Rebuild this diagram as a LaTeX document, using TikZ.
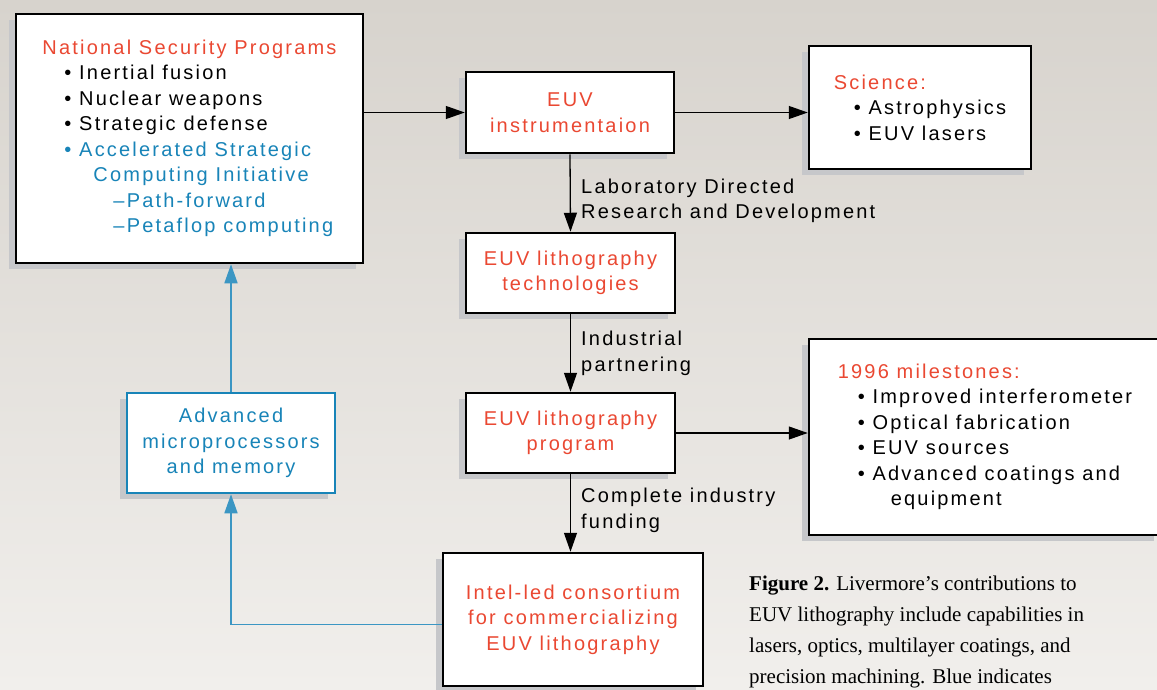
\documentclass[tikz,border=0pt]{standalone}
\usepackage{fontspec}
\setmainfont{Liberation Serif}
\newfontfamily\boxfont{Liberation Sans}[LetterSpace=11]
\usetikzlibrary{arrows.meta,positioning,shadows}

\definecolor{euvred}{RGB}{234,72,50}
\definecolor{euvblue}{RGB}{24,132,184}
\definecolor{shadowgrey}{RGB}{198,199,202}
\definecolor{bgtop}{RGB}{215,211,205}
\definecolor{bgbottom}{RGB}{241,239,236}

\tikzset{
  box/.style={draw, line width=2.5pt, fill=white, align=center, inner sep=0pt,
    font=\boxfont\fontsize{20}{25.5}\selectfont,
    drop shadow={shadow xshift=-7pt, shadow yshift=-6pt, fill=shadowgrey, opacity=1}},
  redbox/.style={box, text=euvred},
  bluebox/.style={box, draw=euvblue, text=euvblue},
  lbl/.style={anchor=west, align=left, inner sep=0pt,
    font=\boxfont\fontsize{20}{25.5}\selectfont},
  link/.style={line width=1.3pt, -{Triangle[length=19pt,width=13pt]}},
  bluelink/.style={link, draw=euvblue!85!white, line width=1.6pt}
}

\begin{document}
\begin{tikzpicture}[x=1pt,y=-1pt]
          \useasboundingbox (0,0) rectangle (1157,689);
          \shade[top color=bgtop, bottom color=bgbottom] (0,0) rectangle (1157,689);

          % boxes
          \node[box, minimum width=347pt, minimum height=249pt, align=left] (nsp) at (189.5,138.5)
            {\textcolor{euvred}{National Security Programs}\\
             \hspace*{22pt}• Inertial fusion\\
             \hspace*{22pt}• Nuclear weapons\\
             \hspace*{22pt}• Strategic defense\\
             \textcolor{euvblue}{\hspace*{22pt}• Accelerated Strategic}\\
             \textcolor{euvblue}{\hspace*{51pt}Computing Initiative}\\
             \textcolor{euvblue}{\hspace*{71pt}–Path-forward}\\
             \textcolor{euvblue}{\hspace*{71pt}–Petaflop computing}};
          \node[redbox, minimum width=208pt, minimum height=81pt] (instr) at (570,112.5)
            {EUV\\instrumentaion};
          \node[box, minimum width=222pt, minimum height=123pt, align=left] (science) at (920,107.5)
            {\textcolor{euvred}{Science:}\\
             \hspace*{20pt}• Astrophysics\\
             \hspace*{20pt}• EUV lasers};
          \node[redbox, minimum width=209pt, minimum height=80pt] (tech) at (570.5,273)
            {EUV lithography\\technologies};
          \node[redbox, minimum width=209pt, minimum height=80pt] (prog) at (570.5,433)
            {EUV lithography\\program};
          \node[box, minimum width=352pt, minimum height=196pt, align=left] (miles) at (985,437)
            {\textcolor{euvred}{1996 milestones:}\\
             \hspace*{20pt}• Improved interferometer\\
             \hspace*{20pt}• Optical fabrication\\
             \hspace*{20pt}• EUV sources\\
             \hspace*{20pt}• Advanced coatings and\\
             \hspace*{53pt}equipment};
          \node[redbox, minimum width=260pt, minimum height=133pt] (intel) at (573,619.5)
            {Intel-led consortium\\for commercializing\\EUV lithography};
          \node[bluebox, minimum width=208pt, minimum height=100pt] (micro) at (231,443)
            {Advanced\\microprocessors\\and memory};

          % arrow labels
          \node[lbl] (ldrd) at (581,201) {Laboratory Directed\\Research and Development};
          \node[lbl] (partner) at (581,353.5) {Industrial\\partnering};
          \node[lbl] (funding) at (581,510.5) {Complete industry\\funding};

          % connectors
          \draw[link] (nsp.east |- instr.west) -- (instr.west);
          \draw[link] (instr.east) -- (instr.east -| science.west);
          \draw[link] (instr.south) -- (tech.north);
          \draw[link] (tech.south) -- (prog.north);
          \draw[link] (prog.east) -- (prog.east -| miles.west);
          \draw[link] (prog.south) -- (prog.south |- intel.north);
          \draw[bluelink] ([yshift=-5pt]intel.west) -| (micro.south);
          \draw[bluelink] (micro.north) -- (micro.north |- nsp.south);

          \node[anchor=north west, align=left, inner sep=0pt,
                font=\fontsize{21}{31}\selectfont] (caption) at (749,576)
            {\textbf{Figure 2.} Livermore’s contributions to\\
             EUV lithography include capabilities in\\
             lasers, optics, multilayer coatings, and\\
             precision machining. Blue indicates};
\end{tikzpicture}
\end{document}
